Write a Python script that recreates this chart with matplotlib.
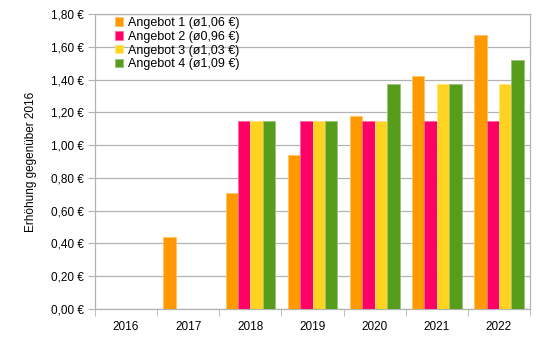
import numpy as np
import matplotlib.pyplot as plt
from matplotlib.ticker import FuncFormatter

# Erhöhung gegenüber 2016 je Angebot und Jahr
jahre = ['2016', '2017', '2018', '2019', '2020', '2021', '2022']
angebot_1 = [0.00, 0.44, 0.71, 0.94, 1.18, 1.42, 1.67]
angebot_2 = [0.00, 0.00, 1.15, 1.15, 1.15, 1.15, 1.15]
angebot_3 = [0.00, 0.00, 1.15, 1.15, 1.15, 1.37, 1.37]
angebot_4 = [0.00, 0.00, 1.15, 1.15, 1.37, 1.37, 1.52]
serien = [angebot_1, angebot_2, angebot_3, angebot_4]
farben = ['#ff9900', '#ff0066', '#ffd320', '#579d1c']
kanten = ['#ffc266', '#ff66a3', '#ffe680', '#9cc47a']


def mittel(werte):
    # Durchschnitt ohne Basisjahr 2016
    return sum(werte[1:]) / len(werte[1:])


def euro(v, pos=None):
    return f'{v:.2f} €'.replace('.', ',')


plt.rcParams['font.family'] = ['Liberation Sans', 'DejaVu Sans']
fig = plt.figure(figsize=(5.41, 3.40), dpi=100)
ax = fig.add_axes([0.1756, 0.0912, 0.8041, 0.8676])

x = np.arange(len(jahre))
breite = 0.2
for i, (werte, farbe, kante) in enumerate(zip(serien, farben, kanten)):
    name = f'Angebot {i + 1} (ø{mittel(werte):.2f} €)'.replace('.', ',')
    ax.bar(x + (i - 1.5) * breite, werte, breite, color=farbe,
           edgecolor=kante, linewidth=0.6, label=name, zorder=3)

grau = '#b3b3b3'
ax.set_xlim(-0.5, len(jahre) - 0.5)
ax.set_ylim(0, 1.8)
ax.set_yticks(np.arange(0, 1.81, 0.2))
ax.yaxis.set_major_formatter(FuncFormatter(euro))
ax.set_xticks(x)
ax.set_xticklabels(jahre)
ax.set_xticks(np.arange(-0.5, len(jahre)), minor=True)
ax.tick_params(axis='x', which='major', length=0, pad=9, labelsize=8.5)
ax.tick_params(axis='x', which='minor', length=5, color=grau)
ax.tick_params(axis='y', length=5, color=grau, labelsize=8.5, pad=3)
ax.yaxis.grid(True, color=grau, linewidth=0.9, zorder=0)
for s in ax.spines.values():
    s.set_color(grau)
    s.set_linewidth(0.9)

ax.set_ylabel('Erhöhung gegenüber 2016', fontsize=8.5, labelpad=10)

ax.legend(loc='upper left', bbox_to_anchor=(0.025, 1.02), frameon=False,
          fontsize=9, handlelength=0.65, handleheight=0.65,
          handletextpad=0.4, labelspacing=0.15, borderpad=0.2)

fig.savefig('out.png', dpi=100)
